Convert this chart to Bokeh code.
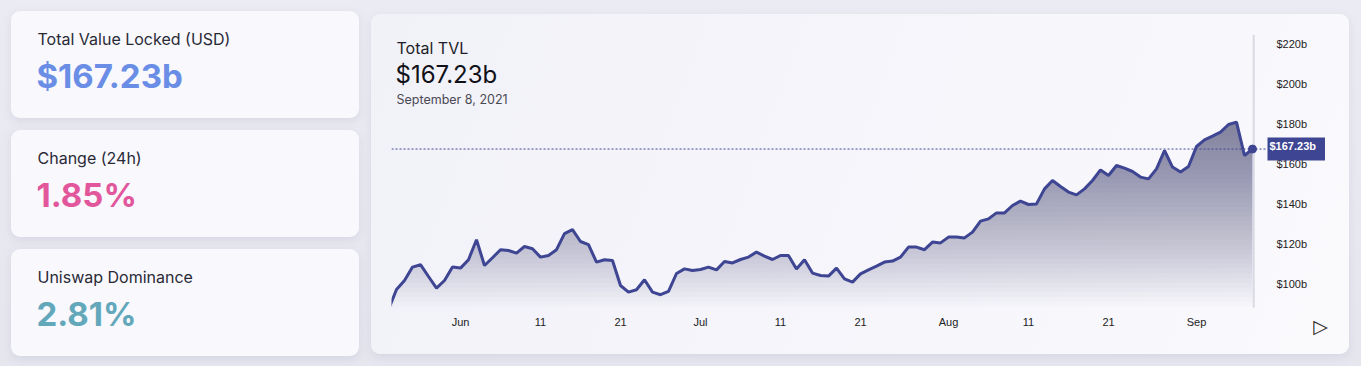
import numpy as np
import pandas as pd
from bokeh.plotting import figure
from bokeh.layouts import row, column
from bokeh.models import Range1d, Label, FixedTicker
from bokeh.core.properties import value
from bokeh.embed import file_html
from bokeh.resources import INLINE

# ---------------- data ----------------
start_date = "2021-05-23"
tvl_may = [87.0, 97.0, 101.5, 108.2, 109.4, 103.5, 97.7, 101.5, 108.2]
tvl_jun = [107.7, 111.9, 121.9, 109.0, 112.9, 116.9, 116.5, 115.2, 118.5, 117.4,
           113.2, 114.0, 116.9, 124.9, 126.9, 121.0, 119.4, 110.7, 111.9, 111.5,
           99.0, 95.7, 96.9, 101.9, 95.7, 94.4, 96.1, 105.0, 107.3, 106.5]
tvl_jul = [107.0, 108.2, 106.8, 111.0, 110.3, 112.0, 113.2, 115.7, 113.7, 112.0,
           114.0, 114.0, 107.3, 111.9, 105.2, 104.0, 103.7, 107.7, 102.3, 100.7,
           104.8, 106.8, 108.7, 110.7, 111.2, 113.2, 118.2, 118.2, 116.9, 120.7,
           120.3]
tvl_aug = [123.2, 123.2, 122.8, 125.7, 131.2, 132.3, 135.3, 135.3, 139.0, 141.2,
           139.5, 139.8, 147.3, 151.5, 148.5, 145.7, 144.3, 147.3, 151.5, 156.8,
           154.0, 159.0, 157.7, 156.0, 153.2, 152.3, 157.3, 166.5, 158.2, 155.7,
           158.5]
tvl_sep = [168.5, 171.8, 173.7, 175.7, 179.5, 180.7, 164.0, 167.23]
tvl = tvl_may + tvl_jun + tvl_jul + tvl_aug + tvl_sep

x_tick_dates = ["2021-06-01", "2021-06-11", "2021-06-21", "2021-07-01", "2021-07-11",
                "2021-07-21", "2021-08-01", "2021-08-11", "2021-08-21", "2021-09-01"]
x_tick_labels = ["Jun", "11", "21", "Jul", "11", "21", "Aug", "11", "21", "Sep"]
y_ticks = [100, 120, 140, 160, 180, 200, 220]
y_tick_labels = ["$100b", "$120b", "$140b", "$160b", "$180b", "$200b", "$220b"]

card_titles = ["Total Value Locked (USD)", "Change (24h)", "Uniswap Dominance"]
card_values = ["$167.23b", "1.85%", "2.81%"]
card_colors = ["#6a8de6", "#e2579c", "#63a8ba"]

chart_title = "Total TVL"
current_value = 167.23
current_label = "$167.23b"
current_date = "September 8, 2021"

# ---------------- derived x positions (days from Jun 1) ----------------
ref = pd.Timestamp("2021-06-01")
dates = pd.date_range(start_date, periods=len(tvl), freq="D")
days = np.asarray((dates - ref).days, dtype=float)
tick_days = [float((pd.Timestamp(d) - ref).days) for d in x_tick_dates]
tvl_arr = np.asarray(tvl, dtype=float)

FONT = "Inter"
AXFONT = "Liberation Sans"
NAVY = "#3e4592"

# ---------------- left cards ----------------
card_style = {"border-radius": "9px", "background": "#f8f8fd",
              "box-shadow": "0 3px 10px rgba(110,110,150,0.13)"}
cards = []
W, H = 348, 107
for i, (t, v, c) in enumerate(zip(card_titles, card_values, card_colors)):
    top = 11 if i == 0 else 12
    bottom = 10 if i == 2 else 0
    f = figure(width=W, height=H, x_range=Range1d(0, W), y_range=Range1d(H, 0),
               x_axis_type=None, y_axis_type=None, toolbar_location=None,
               output_backend="svg", min_border=0, outline_line_color=None,
               background_fill_alpha=0, border_fill_alpha=0,
               margin=(top, 0, bottom, 11), styles=card_style)
    f.grid.visible = False
    f.text(x=[26], y=[27.5], text=[t], text_font=value(FONT), text_font_size="16px",
           text_color="#2a2a36", text_baseline="alphabetic", text_align="left")
    f.text(x=[25], y=[64.5], text=[v], text_font=value(FONT), text_font_size="33px",
           text_font_style="bold", text_color=c, text_baseline="alphabetic",
           text_align="left")
    cards.append(f)

# ---------------- chart card ----------------
CW, CH = 978, 340
BL, BR, BT, BB = 20, 10, 20, 10
x_start, x_end = -8.625, 109.875      # 8 px per day
y0, y1 = 69.5, 224.5                  # 2 px per $1b
fill_floor = 88.5                     # bottom of the plotted area
tag_x = 100.875                       # where the value tag starts

chart = figure(width=CW, height=CH,
               x_range=Range1d(x_start, x_end), y_range=Range1d(y0, y1),
               y_axis_location="right", toolbar_location=None, output_backend="svg",
               min_border_left=BL, min_border_right=BR, min_border_top=BT,
               min_border_bottom=BB, background_fill_alpha=0, border_fill_alpha=0,
               outline_line_color=None, margin=(14, 12, 12, 12),
               styles={"border-radius": "9px",
                       "background": "linear-gradient(110deg, #f1f1f8 0%, #f6f6fb 60%, #fafafd 100%)",
                       "box-shadow": "0 3px 10px rgba(110,110,150,0.13)"})
chart.grid.visible = False

# gradient fill under the line
levels = np.linspace(fill_floor, 181.0, 40)
for lv in levels:
    chart.varea(x=days, y1=np.minimum(tvl_arr, lv), y2=tvl_arr,
                fill_color="#322f5a", fill_alpha=0.02)

# vertical rule at the latest date, dotted guide at the latest value
chart.segment(x0=[days[-1] + 0.15], x1=[days[-1] + 0.15], y0=[fill_floor - 0.5], y1=[y1],
              line_color="#d9d9e3", line_width=2)
chart.segment(x0=[x_start], x1=[tag_x], y0=[current_value], y1=[current_value],
              line_color=NAVY, line_width=1, line_dash="2 2")
chart.line(days, tvl_arr, line_color=NAVY, line_width=3)
chart.scatter([days[-1]], [tvl_arr[-1]], size=8, color=NAVY)

# axes (labels drawn over the card's right / bottom area)
xa = chart.xaxis[0]
xa.ticker = FixedTicker(ticks=tick_days)
xa.major_label_overrides = {d: l for d, l in zip(tick_days, x_tick_labels)}
xa.axis_line_color = None
xa.major_tick_line_color = None
xa.minor_tick_line_color = None
xa.major_tick_out = 0
xa.major_tick_in = 0
xa.major_label_standoff = -29
xa.major_label_text_font = AXFONT
xa.major_label_text_font_size = "11px"
xa.major_label_text_color = "#222222"

ya = chart.yaxis[0]
ya.ticker = FixedTicker(ticks=y_ticks)
ya.major_label_overrides = {t: l for t, l in zip(y_ticks, y_tick_labels)}
ya.axis_line_color = None
ya.major_tick_line_color = None
ya.minor_tick_line_color = None
ya.major_tick_out = 0
ya.major_tick_in = 0
ya.major_label_standoff = -63
ya.major_label_text_font = AXFONT
ya.major_label_text_font_size = "11px"
ya.major_label_text_color = "#222222"

# header texts
chart.add_layout(Label(x=25, y=33, x_units="canvas", y_units="canvas", text=chart_title,
                       text_font=FONT, text_font_size="16px", text_color="#1e1e28",
                       text_baseline="alphabetic"))
chart.add_layout(Label(x=24, y=60, x_units="canvas", y_units="canvas", text=current_label,
                       text_font=FONT, text_font_size="24px", text_color="#111118",
                       text_baseline="alphabetic"))
chart.add_layout(Label(x=25, y=85, x_units="canvas", y_units="canvas", text=current_date,
                       text_font=FONT, text_font_size="12.5px", text_color="#4a4a55",
                       text_baseline="alphabetic"))

# current value tag
chart.add_layout(Label(x=tag_x, y=current_value, x_units="data", y_units="data",
                       text=current_label, text_font=AXFONT, text_font_size="11px",
                       text_font_style="bold", text_color="white",
                       text_baseline="middle", text_align="left",
                       background_fill_color=NAVY, padding=(2, 9, 2, 9)))

# play icon
chart.add_layout(Label(x=949, y=311, x_units="canvas", y_units="canvas", text="\u25B7",
                       text_font="DejaVu Sans", text_font_size="19px",
                       text_color="#1e1e28", text_align="center",
                       text_baseline="middle"))

layout = row(column(*cards), chart,
             styles={"background": "linear-gradient(180deg, #ebebf3 0%, #e6e6ef 100%)"})

open("out.html", "w").write(file_html(layout, INLINE))
